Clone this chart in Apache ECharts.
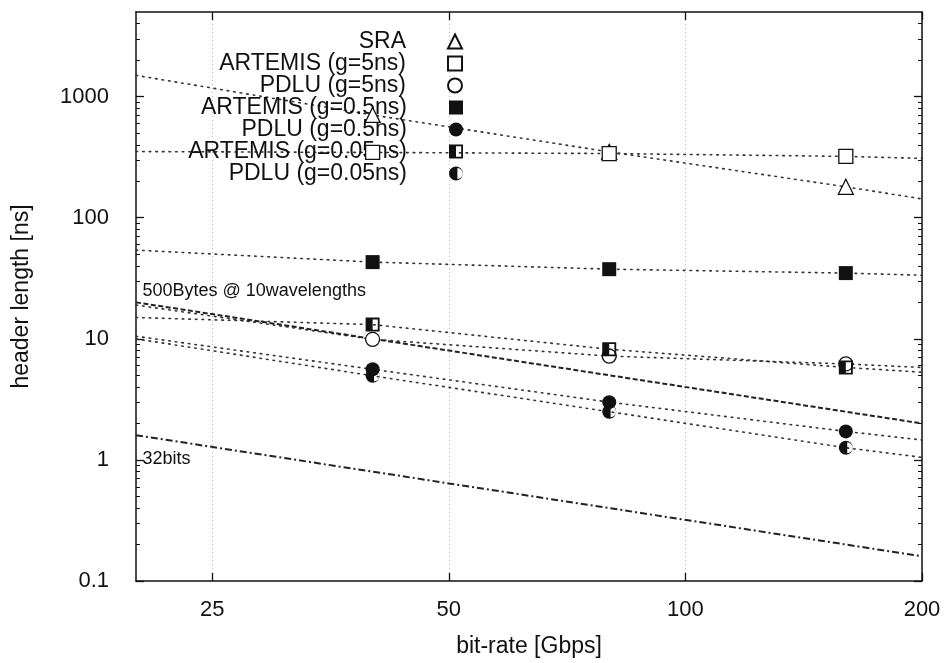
<!DOCTYPE html>
<html><head><meta charset="utf-8">
<script src="https://cdn.jsdelivr.net/npm/echarts@6/dist/echarts.min.js"></script>
<style>html,body{margin:0;padding:0;background:#fff}#c{width:948px;height:663px}</style>
</head><body><div id="c"></div>
<script>
// ---- data ----
const bitRates = [40, 80, 160];
const seriesNames = ['SRA', 'ARTEMIS (g=5ns)', 'PDLU (g=5ns)', 'ARTEMIS (g=0.5ns)', 'PDLU (g=0.5ns)', 'ARTEMIS (g=0.05ns)', 'PDLU (g=0.05ns)'];
const sra        = [706, 350, 180];
const artemis5   = [346, 339, 321];
const pdlu5      = [9.9, 7.2, 6.2];
const artemis05  = [43, 37.6, 34.9];
const pdlu05     = [5.6, 3.0, 1.72];
const artemis005 = [13.1, 8.2, 5.8];
const pdlu005    = [4.95, 2.5, 1.26];
// dotted trend curves, read at these bit-rates
const fitX          = [20, 40, 80, 160, 200];
const sraFit        = [1500, 706, 350, 180, 143];
const artemis5Fit   = [352, 346, 339, 321, 309];
const pdlu5Fit      = [19, 9.9, 7.2, 6.2, 5.8];
const artemis05Fit  = [54, 43, 37.6, 34.9, 33.5];
const pdlu05Fit     = [10.5, 5.6, 3.0, 1.72, 1.46];
const artemis005Fit = [15, 13.1, 8.2, 5.8, 5.3];
const pdlu005Fit    = [10.0, 4.95, 2.5, 1.26, 1.05];
// reference lines
const refX     = [20, 200];
const bytes500 = [20, 2];
const bits32   = [1.6, 0.16];
const refLabels = ['500Bytes @ 10wavelengths', '32bits'];
// ticks
const xTicks = [25, 50, 100, 200];
const yTicks = [0.1, 1, 10, 100, 1000];
const yMinor = [0.2,0.3,0.4,0.5,0.6,0.7,0.8,0.9, 2,3,4,5,6,7,8,9, 20,30,40,50,60,70,80,90, 200,300,400,500,600,700,800,900, 2000,3000,4000];

const FONT = 'Liberation Sans';
const INK = '#111';
const halfSquare = 'path://M0,0H10V10H0Z M5,1.3V8.7H8.7V1.3Z';
const halfCircle = 'path://M5,0A5,5 0 1,1 5,10A5,5 0 1,1 5,0Z M6,1.13L6,8.87A3.87,3.87 0 0,0 6,1.13Z';

const pointSets = [sra, artemis5, pdlu5, artemis05, pdlu05, artemis005, pdlu005];
const fitSets = [sraFit, artemis5Fit, pdlu5Fit, artemis05Fit, pdlu05Fit, artemis005Fit, pdlu005Fit];
const open = {color: '#fff', borderColor: INK, borderWidth: 1.3};
const solid = {color: INK, borderWidth: 0};
const symbols = [
  ['triangle', 15, open],
  ['rect', 14, open],
  ['circle', 14, open],
  ['rect', 14, solid],
  ['circle', 14, solid],
  [halfSquare, 14, solid],
  [halfCircle, 14, solid]
];

const series = [];
fitSets.forEach((f, i) => {
  series.push({
    type: 'line', name: seriesNames[i] + ' fit', silent: true, z: 2,
    showSymbol: false, symbol: 'none',
    data: fitX.map((x, j) => [x, f[j]]),
    lineStyle: {color: '#333', width: 1.6, type: [1.6, 5], cap: 'round'}
  });
});
function refSeries(name, ys, label, offset, dash) {
  return {
    type: 'line', name: name, silent: true, z: 3,
    symbol: 'circle', symbolSize: 1, showSymbol: true,
    itemStyle: {color: 'rgba(0,0,0,0)'},
    data: refX.map((x, j) => ({
      value: [x, ys[j]],
      label: j === 0
        ? {show: true, formatter: label, position: 'right', distance: 6, offset: offset, fontFamily: FONT, fontSize: 18, color: INK}
        : {show: false}
    })),
    lineStyle: {color: '#222', width: 2, type: dash}
  };
}
series.push(refSeries('500B', bytes500, refLabels[0], [0, -11], [5, 2.5]));
series.push(refSeries('32b', bits32, refLabels[1], [0, 24], [7, 3, 2, 3]));
pointSets.forEach((p, i) => {
  series.push({
    type: 'scatter', name: seriesNames[i], z: 5,
    symbol: symbols[i][0], symbolSize: symbols[i][1],
    itemStyle: Object.assign({opacity: 1}, symbols[i][2]),
    data: bitRates.map((x, j) => [x, p[j]])
  });
});

const legendRows = [40, 62, 84, 106, 128, 150, 172];
const legends = seriesNames.map((n, i) => ({
  data: [n], orient: 'vertical', align: 'right', right: 485, top: legendRows[i] - 10,
  itemWidth: 14, itemHeight: 14, padding: 0, selectedMode: false,
  textStyle: {fontFamily: FONT, fontSize: 23, color: INK, padding: [0, 37, 0, 0]}
}));

const fmt = v => String(+(+v).toPrecision(6));
const axisLine = {show: true, lineStyle: {color: INK, width: 1.5}};

const option = {
  backgroundColor: '#fff',
  animation: false,
  grid: {left: 136, right: 26, top: 12, bottom: 76, containLabel: false},
  legend: legends,
  xAxis: [
    {type: 'log', logBase: 2, min: 20, max: 200, position: 'bottom',
     name: 'bit-rate [Gbps]', nameLocation: 'middle', nameGap: 54,
     nameTextStyle: {fontFamily: FONT, fontSize: 23, color: INK},
     axisLine: axisLine,
     axisTick: {show: true, inside: true, length: 8, customValues: xTicks, lineStyle: {color: INK, width: 1.3}},
     axisLabel: {customValues: xTicks, formatter: fmt, margin: 18, fontFamily: FONT, fontSize: 22, color: INK},
     splitLine: {show: true, lineStyle: {color: '#bbb', type: [1, 3], width: 1}},
     minorTick: {show: false}},
    {type: 'log', logBase: 2, min: 20, max: 200, position: 'top',
     axisLine: axisLine,
     axisTick: {show: true, inside: true, length: 8, customValues: xTicks, lineStyle: {color: INK, width: 1.3}},
     axisLabel: {show: false}, splitLine: {show: false}}
  ],
  yAxis: [
    {type: 'log', logBase: 10, min: 0.1, max: 5000, position: 'left',
     name: 'header length [ns]', nameLocation: 'middle', nameGap: 103, nameRotate: 90,
     nameTextStyle: {fontFamily: FONT, fontSize: 23, color: INK},
     axisLine: axisLine,
     axisTick: {show: true, inside: true, length: 8, customValues: yTicks, lineStyle: {color: INK, width: 1.3}},
     axisLabel: {customValues: yTicks, formatter: fmt, margin: 27, fontFamily: FONT, fontSize: 22, color: INK},
     splitLine: {show: false}},
    {type: 'log', logBase: 10, min: 0.1, max: 5000, position: 'right',
     axisLine: axisLine,
     axisTick: {show: true, inside: true, length: 8, customValues: yTicks, lineStyle: {color: INK, width: 1.3}},
     axisLabel: {show: false}, splitLine: {show: false}},
    {type: 'log', logBase: 10, min: 0.1, max: 5000, position: 'left',
     axisLine: {show: false},
     axisTick: {show: true, inside: true, length: 4, customValues: yMinor, lineStyle: {color: INK, width: 1}},
     axisLabel: {show: false}, splitLine: {show: false}},
    {type: 'log', logBase: 10, min: 0.1, max: 5000, position: 'right',
     axisLine: {show: false},
     axisTick: {show: true, inside: true, length: 4, customValues: yMinor, lineStyle: {color: INK, width: 1}},
     axisLabel: {show: false}, splitLine: {show: false}}
  ],
  series: series
};
const chart = echarts.init(document.getElementById('c'), null, {renderer: 'canvas'});
chart.setOption(option);
</script>
</body></html>
